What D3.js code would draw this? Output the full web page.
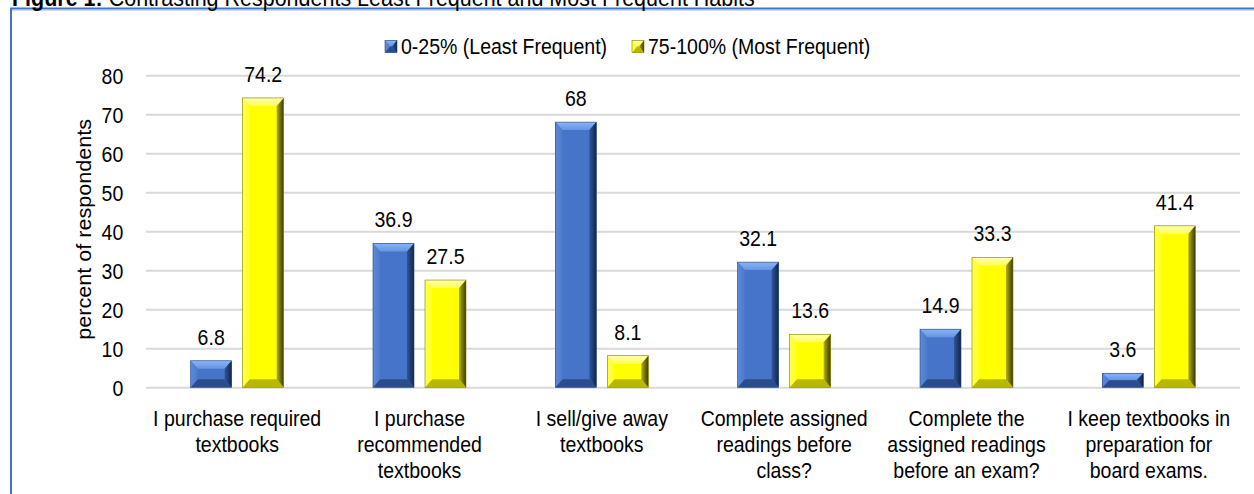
<!DOCTYPE html>
<html><head><meta charset="utf-8">
<script src="https://cdn.jsdelivr.net/npm/d3@7"></script>
<style>
body{margin:0;background:#fff}
svg{display:block}
text{font-family:"Liberation Sans",Arial,sans-serif;fill:#000}
</style>
</head><body>
<svg id="c" width="1254" height="494"></svg>
<script>
const categories = [
  "I purchase required\ntextbooks",
  "I purchase\nrecommended\ntextbooks",
  "I sell/give away\ntextbooks",
  "Complete assigned\nreadings before\nclass?",
  "Complete the\nassigned readings\nbefore an exam?",
  "I keep textbooks in\npreparation for\nboard exams."
];
const seriesNames = ["0-25% (Least Frequent)", "75-100% (Most Frequent)"];
const leastFrequent = [6.8, 36.9, 68, 32.1, 14.9, 3.6];
const mostFrequent = [74.2, 27.5, 8.1, 13.6, 33.3, 41.4];
const yTicks = [0, 10, 20, 30, 40, 50, 60, 70, 80];
const yLabel = "percent of respondents";
const titleBold = "Figure 1:";
const titleRest = " Contrasting Respondents Least Frequent and Most Frequent Habits";

const FS = "22.5px";
const SX = 0.868; // horizontal squeeze of the text in the picture
const svg = d3.select("#c");
const defs = svg.append("defs");

const L = 146, R = 1240, T = 75.3, B = 387.3;
const x = d3.scaleBand().domain(categories).range([L, R]).padding(0);
const x1 = d3.scaleBand().domain(seriesNames).range([0, 93]).paddingInner(0.2115);
const groupOff = (x.bandwidth() - 93) / 2;
const y = d3.scaleLinear().domain([0, 80]).range([B, T]);

// frame
svg.append("rect").attr("x", 11).attr("y", 8.5).attr("width", 1300).attr("height", 600)
  .attr("fill", "none").attr("stroke", "#4472c4").attr("stroke-width", 2);
svg.append("line").attr("x1", 12).attr("x2", 1300).attr("y1", 10).attr("y2", 10)
  .attr("stroke", "#9db6e6").attr("stroke-width", 1);

// title (cut off at top, as in the reference)
const title = svg.append("text").attr("x", 12).attr("y", 5.5)
  .style("font-size", "23px");
title.append("tspan").style("font-weight", "bold").text(titleBold);
title.append("tspan").text(titleRest);
{
  const len = title.node().getComputedTextLength();
  const s = 743 / len;
  title.attr("x", 0).attr("transform", `translate(12,0) scale(${s},1)`);
}

// y gridlines & ticks
const yAxis = d3.axisLeft(y).tickValues(yTicks).tickSize(-(R - L)).tickPadding(0);
const gy = svg.append("g").attr("transform", `translate(${L},0)`).call(yAxis);
gy.select(".domain").remove();
gy.selectAll(".tick line").attr("stroke", "#d9d9d9").attr("stroke-width", 2);
gy.selectAll(".tick text")
  .attr("x", 0).attr("dy", "0.36em")
  .attr("text-anchor", "end")
  .attr("transform", `translate(-22.7,0) scale(${SX},1)`)
  .style("font-size", FS).style("font-family", '"Liberation Sans",Arial,sans-serif').attr("fill", "#000");

// y label
svg.append("text")
  .attr("transform", `translate(91,${(T + B) / 2 - 2}) rotate(-90) scale(0.96,${SX})`)
  .attr("text-anchor", "middle")
  .style("font-size", FS)
  .text(yLabel);

// gradients
function lg(id, x1_, y1_, x2_, y2_, stops) {
  const g = defs.append("linearGradient").attr("id", id)
    .attr("x1", x1_).attr("y1", y1_).attr("x2", x2_).attr("y2", y2_);
  stops.forEach(s => g.append("stop").attr("offset", s[0]).attr("stop-color", s[1]));
}
const palettes = {
  blue: {face: "#4674c8", top: ["#8ab4f6", "#6594e2"], left: ["#5c8ad8", "#4d7bcc"], right: ["#2f5699", "#12244a"], bottom: "#2b4d8c", stroke: "#2b4a85"},
  yellow: {face: "#ffff00", top: ["#ffffb0", "#ffff55"], left: ["#ffff50", "#ffff20"], right: ["#b0b000", "#3a3a00"], bottom: "#b8b800", stroke: "#7f7f00"}
};
Object.entries(palettes).forEach(([k, p]) => {
  lg(k + "Top", 0, 0, 0, 1, [[0, p.top[0]], [1, p.top[1]]]);
  lg(k + "Left", 0, 0, 1, 0, [[0, p.left[0]], [1, p.left[1]]]);
  lg(k + "Right", 0, 0, 1, 0, [[0, p.right[0]], [1, p.right[1]]]);
});

function bevelBar(g, bx, by, w, h, key, bMax) {
  const p = palettes[key];
  const m = bMax || 8;
  const bt = Math.min(m, h / 2), bs = Math.min(m - 1, w / 2);
  g.append("rect").attr("x", bx).attr("y", by).attr("width", w).attr("height", h).attr("fill", p.face);
  const poly = (pts, fill) => g.append("polygon").attr("points", pts.map(q => q.join(",")).join(" ")).attr("fill", fill);
  poly([[bx, by], [bx + w, by], [bx + w - bs, by + bt], [bx + bs, by + bt]], `url(#${key}Top)`);
  poly([[bx, by + h], [bx + w, by + h], [bx + w - bs, by + h - bt], [bx + bs, by + h - bt]], p.bottom);
  poly([[bx, by], [bx + bs, by + bt], [bx + bs, by + h - bt], [bx, by + h]], `url(#${key}Left)`);
  poly([[bx + w, by], [bx + w - bs, by + bt], [bx + w - bs, by + h - bt], [bx + w, by + h]], `url(#${key}Right)`);
  g.append("rect").attr("x", bx).attr("y", by).attr("width", w).attr("height", h)
    .attr("fill", "none").attr("stroke", p.stroke).attr("stroke-width", 0.6);
}

// bars
const seriesData = [
  {name: seriesNames[0], values: leastFrequent, key: "blue"},
  {name: seriesNames[1], values: mostFrequent, key: "yellow"}
];
const barsG = svg.append("g");
seriesData.forEach(s => {
  s.values.forEach((v, i) => {
    const bx = x(categories[i]) + groupOff + x1(s.name);
    const by = y(v);
    const h = y(0) - y(v);
    bevelBar(barsG, bx, by, x1.bandwidth(), h, s.key);
    barsG.append("text")
      .attr("transform", `translate(${bx + x1.bandwidth() / 2},${by - 16}) scale(${SX},1)`)
      .attr("text-anchor", "middle")
      .style("font-size", FS)
      .text(String(v));
  });
});

// x labels
categories.forEach(c => {
  const cx = x(c) + x.bandwidth() / 2;
  const t = svg.append("text")
    .attr("transform", `translate(${cx},426) scale(${SX},1)`)
    .attr("text-anchor", "middle")
    .style("font-size", FS);
  c.split("\n").forEach((line, j) => {
    t.append("tspan").attr("x", 0).attr("y", j * 26).text(line);
  });
});

// legend
const legendPos = [385, 632];
seriesData.forEach((s, i) => {
  const g = svg.append("g");
  bevelBar(g, legendPos[i], 40.5, 12, 12, s.key, 6);
  g.append("text")
    .attr("transform", `translate(${legendPos[i] + 16},54) scale(${SX},1)`)
    .style("font-size", FS)
    .text(s.name);
});
</script>
</body></html>
